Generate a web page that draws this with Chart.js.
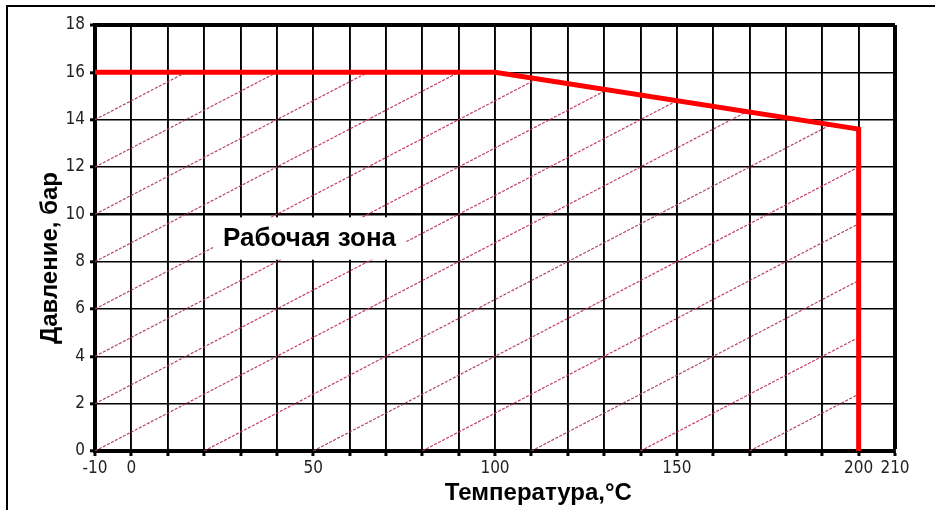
<!DOCTYPE html>
<html><head><meta charset="utf-8">
<script src="https://cdn.jsdelivr.net/npm/chart.js@4.4.1/dist/chart.umd.min.js"></script>
<style>
html,body{margin:0;padding:0;background:#fff;}
#wrap{position:relative;width:935px;height:510px;overflow:hidden;background:#fff;}
#frame{position:absolute;left:6px;top:5px;width:1000px;height:600px;border-top:2px solid #000;border-left:2px solid #000;}
canvas{position:absolute;left:0;top:0;}
</style></head><body>
<div id="wrap"><div id="frame"></div><canvas id="c" width="935" height="510"></canvas></div>
<script>
// ---- data ----
const temperatures = [-10, 100, 200, 200];
const pressures = [16, 16, 13.6, 0];
const xTickLabels = [-10, 0, 50, 100, 150, 200, 210];
const hatchSlope = 0.08;                 // bar per °C
const hatchLeftStarts = [0, 2, 4, 6, 8, 10, 12, 14];
const hatchBottomStarts = [20, 50, 80, 110, 140, 170];
const zoneLabel = 'Рабочая зона';
const zoneLabelAt = [49, 8.95];
const xTitle = 'Температура,°C';
const yTitle = 'Давление, бар';

const narrow = "'Liberation Sans Narrow', 'Arial Narrow', 'DejaVu Sans Condensed', sans-serif";
const bold = "'Liberation Sans', Arial, sans-serif";

const hatchPlugin = {
  id: 'hatch',
  beforeDatasetsDraw(chart) {
    const {ctx, scales: {x, y}} = chart;
    ctx.save();
    ctx.beginPath();
    ctx.moveTo(x.getPixelForValue(temperatures[0]), y.getPixelForValue(0));
    temperatures.forEach((t, i) => ctx.lineTo(x.getPixelForValue(t), y.getPixelForValue(pressures[i])));
    ctx.closePath();
    ctx.clip();
    ctx.strokeStyle = 'rgba(185,55,90,0.95)';
    ctx.lineWidth = 1.2;
    ctx.setLineDash([3, 1.5]);
    const xMin = x.min, xMax = x.max;
    const seg = (x0, y0, x1, y1) => {
      ctx.beginPath();
      ctx.moveTo(x.getPixelForValue(x0), y.getPixelForValue(y0));
      ctx.lineTo(x.getPixelForValue(x1), y.getPixelForValue(y1));
      ctx.stroke();
    };
    hatchLeftStarts.forEach(p => seg(xMin, p, xMax, p + hatchSlope * (xMax - xMin)));
    hatchBottomStarts.forEach(t => seg(t, 0, xMax, hatchSlope * (xMax - t)));
    ctx.restore();

    // label with white box
    ctx.save();
    ctx.font = 'bold 26px ' + bold;
    const w = ctx.measureText(zoneLabel).width;
    const cx = x.getPixelForValue(zoneLabelAt[0]);
    const cy = y.getPixelForValue(zoneLabelAt[1]);
    const top = y.getPixelForValue(10) + 3;
    const bot = y.getPixelForValue(8) - 2;
    ctx.fillStyle = '#fff';
    ctx.fillRect(cx - w / 2 - 10, top, w + 20, bot - top);
    ctx.fillStyle = '#000';
    ctx.textAlign = 'center';
    ctx.textBaseline = 'middle';
    ctx.fillText(zoneLabel, cx, cy);
    ctx.restore();
  }
};

new Chart(document.getElementById('c'), {
  type: 'line',
  data: {
    datasets: [{
      data: temperatures.map((t, i) => ({x: t, y: pressures[i]})),
      borderColor: '#ff0000',
      borderWidth: 5,
      pointRadius: 0,
      tension: 0,
      fill: false,
      borderJoinStyle: 'miter',
      borderCapStyle: 'butt'
    }]
  },
  options: {
    responsive: false,
    animation: false,
    layout: {padding: {top: 25, right: 40, left: 0, bottom: 0}},
    plugins: {legend: {display: false}, tooltip: {enabled: false}},
    scales: {
      x: {
        type: 'linear', min: -10, max: 210,
        afterFit(s) { s.height = 59; },
        ticks: {
          stepSize: 10, autoSkip: false, maxRotation: 0, minRotation: 0,
          callback: v => xTickLabels.includes(v) ? String(v) : '',
          font: {family: narrow, size: 17}, color: '#222', padding: 2
        },
        grid: {
          color: '#000',
          lineWidth: c => (c.tick && c.tick.value === 210) ? 4 : 1.9,
          drawTicks: true, tickLength: 5, tickWidth: 3, tickColor: '#000'
        },
        border: {width: 4, color: '#000'},
        title: {
          display: true, text: '             ' + xTitle,
          font: {family: bold, size: 24, weight: 'bold'}, color: '#000',
          padding: {top: 0, bottom: 2}
        }
      },
      y: {
        type: 'linear', min: 0, max: 18,
        afterFit(s) { s.width = 95; },
        ticks: {stepSize: 2, font: {family: narrow, size: 17}, color: '#222', padding: 5},
        grid: {
          color: '#000',
          lineWidth: c => { const v = c.tick && c.tick.value; return v === 18 ? 4 : (v === 10 ? 2.6 : 1.6); },
          drawTicks: true, tickLength: 5, tickWidth: 3, tickColor: '#000'
        },
        border: {width: 4, color: '#000'},
        title: {
          display: true, text: yTitle + '      ',
          font: {family: bold, size: 24, weight: 'bold'}, color: '#000',
          padding: {top: 36, bottom: 0}
        }
      }
    }
  },
  plugins: [hatchPlugin]
});
</script>
</body></html>
